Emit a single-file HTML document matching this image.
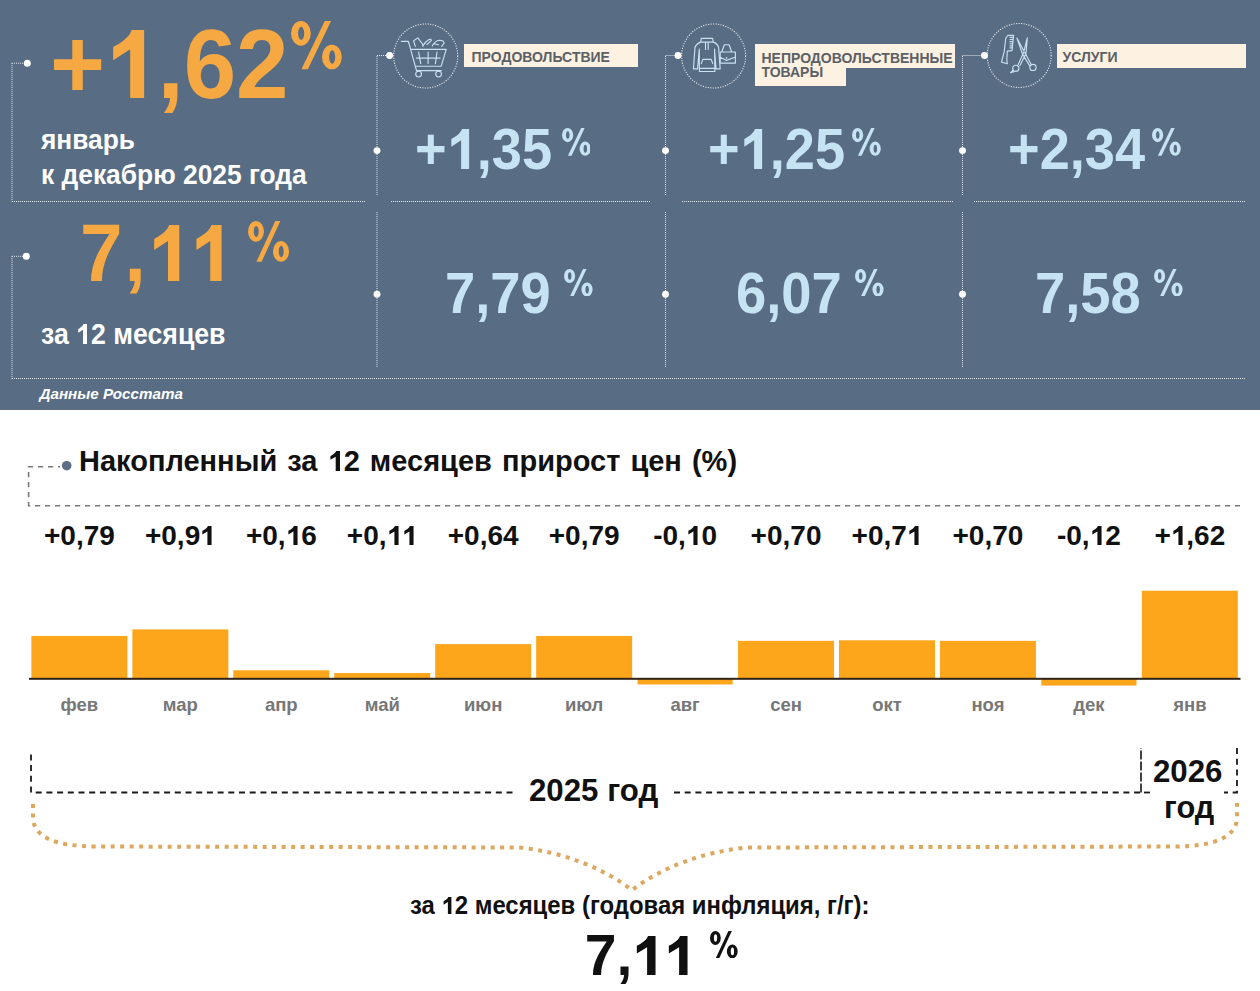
<!DOCTYPE html>
<html><head><meta charset="utf-8"><style>
html,body{margin:0;padding:0;}
body{width:1260px;height:991px;position:relative;overflow:hidden;background:#fff;font-family:"Liberation Sans",sans-serif;}
.abs{position:absolute;left:0;top:0;}
.t{position:absolute;white-space:nowrap;line-height:1;font-weight:bold;}
.c{text-align:center;}
.one{display:inline-block;width:0.55615em;height:0.688em;vertical-align:baseline;}
.one svg{display:block;width:100%;height:100%;fill:currentColor;}
#panel{position:absolute;left:0;top:0;width:1260px;height:410px;background:#586c83;}
</style></head><body>
<div id="panel"></div>
<svg class="abs" width="1260" height="410" viewBox="0 0 1260 410"><line x1="12" y1="63" x2="12" y2="201.5" stroke="#dfe6ee" stroke-width="1" stroke-dasharray="1 1" fill="none"/><line x1="12" y1="63.2" x2="27" y2="63.2" stroke="#dfe6ee" stroke-width="1" stroke-dasharray="1 1" fill="none"/><circle cx="27.3" cy="63.2" r="3.5" fill="#ffffff"/><line x1="12" y1="201.5" x2="366" y2="201.5" stroke="#dfe6ee" stroke-width="1" stroke-dasharray="1 1" fill="none"/><line x1="12" y1="256.3" x2="27" y2="256.3" stroke="#dfe6ee" stroke-width="1" stroke-dasharray="1 1" fill="none"/><circle cx="26.3" cy="256.3" r="3.5" fill="#ffffff"/><line x1="12" y1="256" x2="12" y2="379" stroke="#dfe6ee" stroke-width="1" stroke-dasharray="1 1" fill="none"/><line x1="12" y1="378.5" x2="1246" y2="378.5" stroke="#dfe6ee" stroke-width="1" stroke-dasharray="1 1" fill="none"/><line x1="377" y1="55.5" x2="389.6" y2="55.5" stroke="#dfe6ee" stroke-width="1" stroke-dasharray="1 1" fill="none"/><circle cx="389.6" cy="55.5" r="3.45" fill="#ffffff"/><line x1="377" y1="56" x2="377" y2="195" stroke="#dfe6ee" stroke-width="1" stroke-dasharray="1 1" fill="none"/><circle cx="377" cy="150.6" r="3.45" fill="#ffffff"/><line x1="391" y1="201.5" x2="650" y2="201.5" stroke="#dfe6ee" stroke-width="1" stroke-dasharray="1 1" fill="none"/><line x1="377" y1="212" x2="377" y2="367" stroke="#dfe6ee" stroke-width="1" stroke-dasharray="1 1" fill="none"/><circle cx="377" cy="294.3" r="3.45" fill="#ffffff"/><line x1="665.5" y1="55.5" x2="678" y2="55.5" stroke="#dfe6ee" stroke-width="1" stroke-dasharray="1 1" fill="none"/><circle cx="678" cy="55.5" r="3.45" fill="#ffffff"/><line x1="665.5" y1="56" x2="665.5" y2="195" stroke="#dfe6ee" stroke-width="1" stroke-dasharray="1 1" fill="none"/><circle cx="665.5" cy="150.6" r="3.45" fill="#ffffff"/><line x1="682" y1="201.5" x2="953" y2="201.5" stroke="#dfe6ee" stroke-width="1" stroke-dasharray="1 1" fill="none"/><line x1="665.5" y1="212" x2="665.5" y2="367" stroke="#dfe6ee" stroke-width="1" stroke-dasharray="1 1" fill="none"/><circle cx="665.5" cy="294.3" r="3.45" fill="#ffffff"/><line x1="962.5" y1="55.5" x2="984.5" y2="55.5" stroke="#dfe6ee" stroke-width="1" stroke-dasharray="1 1" fill="none"/><circle cx="984.5" cy="55.5" r="3.45" fill="#ffffff"/><line x1="962.5" y1="56" x2="962.5" y2="195" stroke="#dfe6ee" stroke-width="1" stroke-dasharray="1 1" fill="none"/><circle cx="962.5" cy="150.6" r="3.45" fill="#ffffff"/><line x1="974" y1="201.5" x2="1246" y2="201.5" stroke="#dfe6ee" stroke-width="1" stroke-dasharray="1 1" fill="none"/><line x1="962.5" y1="212" x2="962.5" y2="367" stroke="#dfe6ee" stroke-width="1" stroke-dasharray="1 1" fill="none"/><circle cx="962.5" cy="294.3" r="3.45" fill="#ffffff"/><circle cx="425.7" cy="56" r="32" stroke="#e8eef4" stroke-width="1.1" stroke-dasharray="1.1 1.4" fill="none"/><circle cx="713.6" cy="56" r="32" stroke="#e8eef4" stroke-width="1.1" stroke-dasharray="1.1 1.4" fill="none"/><circle cx="1019.2" cy="55.5" r="32" stroke="#e8eef4" stroke-width="1.1" stroke-dasharray="1.1 1.4" fill="none"/><path stroke="#c8e2f1" stroke-width="1.15" fill="none" stroke-linecap="round" stroke-linejoin="round" d="M401.3 41.3 L408.4 41.3 L416.5 70.6 L441.2 70.6 M410.7 49.3 L446.2 49.3 L441.2 66.2 L416 66.2 M416.3 58.1 L440.1 58.1 M418.6 52 L420.7 63.6 M428.1 52 L428.1 63.6 M437 52 L435.4 63.6"/><circle cx="418.6" cy="74.1" r="2.9" stroke="#c8e2f1" stroke-width="1.15" fill="none" stroke-linecap="round" stroke-linejoin="round"/><circle cx="438.6" cy="74.1" r="2.9" stroke="#c8e2f1" stroke-width="1.15" fill="none" stroke-linecap="round" stroke-linejoin="round"/><path stroke="#c8e2f1" stroke-width="1.15" fill="none" stroke-linecap="round" stroke-linejoin="round" d="M415.3 46.3 L413.6 40.8 L417.8 37.9 L422.5 44 L423 46.3 M422.8 46 Q425.5 41.5 429 39.6 L430.8 39.2 L431.3 40.6 L427 44.5 M432.2 46 Q435 40.5 439.5 40.2 Q444.5 40.5 444 43.5 L441.6 46.3 M434 43.8 L438.5 44.8"/><path stroke="#c8e2f1" stroke-width="1.15" fill="none" stroke-linecap="round" stroke-linejoin="round" d="M701.3 38.4 L712.6 38.4 L713.3 42.1 L700.7 42.1 Z M700.7 42.1 Q696 44 695 47.5 L693.4 68.8 L697.6 68.8 L699.2 50 M713.3 42.1 Q718 44 718.6 47.5 L720.2 68.8 L716 68.8 L714.6 50 M699.3 49 L699.4 71.5 L714.9 71.5 L714.6 49 M699.4 68.3 L714.9 68.3 M705.5 42.6 L705.5 49.4 M708.2 42.6 L708.2 49.4 M701.3 63.6 L702.8 59.4 L711.2 59.4 L712.8 63.6"/><path stroke="#c8e2f1" stroke-width="1.15" fill="none" stroke-linecap="round" stroke-linejoin="round" d="M721.7 52 L724.4 44.7 L729.1 44.7 L731.7 52 M720.2 52 L735.4 52 L735.4 63.1 L720.2 63.1 Z M720.2 57.3 L726.5 60.4 L734.9 57.3"/><circle cx="726.5" cy="57.8" r="0.9" fill="#c8e2f1"/><path stroke="#c8e2f1" stroke-width="1.15" fill="none" stroke-linecap="round" stroke-linejoin="round" d="M1007.8 35.3 L1013.6 35.3 L1012 50.6 L1007.3 51.1 L1006.8 59.5 L1007.3 63.7 L1001.5 62.1 L1004.2 51.6 L1005.7 38.5 Z M1010 37.4 L1013.4 37.4 M1010 39.5 L1013.2 39.5 M1010 41.6 L1013 41.6 M1010 43.7 L1012.8 43.7 M1010 45.8 L1012.6 45.8 M1010 47.9 L1012.4 47.9"/><path stroke="#c8e2f1" stroke-width="1.15" fill="none" stroke-linecap="round" stroke-linejoin="round" d="M1017 38.2 L1025 53 L1031.2 64.6 M1017 38.2 L1022.6 54.2 L1029.6 65.6 M1027.3 37.8 L1023.6 52.6 L1018.2 64.6 M1027.3 37.8 L1026 53.6 L1019.9 65.6"/><circle cx="1033" cy="67.4" r="3.1" stroke="#c8e2f1" stroke-width="1.15" fill="none" stroke-linecap="round" stroke-linejoin="round"/><circle cx="1015.8" cy="68.3" r="3.1" stroke="#c8e2f1" stroke-width="1.15" fill="none" stroke-linecap="round" stroke-linejoin="round"/><path stroke="#c8e2f1" stroke-width="1.15" fill="none" stroke-linecap="round" stroke-linejoin="round" d="M1013.2 70.2 L1010.5 72.6 L1014 71.8"/></svg>
<div class="abs" style="left:464px;top:44px;width:174px;height:23px;background:#fdf1e1"></div><div class="abs" style="left:755px;top:44px;width:200px;height:24px;background:#fdf1e1"></div><div class="abs" style="left:755px;top:67px;width:91px;height:19px;background:#fdf1e1"></div><div class="abs" style="left:1057px;top:44px;width:189px;height:24px;background:#fdf1e1"></div>
<div class="t" style="left:471.50px;top:49.85px;font-size:14px;color:#5b5f66;font-weight:bold;font-style:normal;letter-spacing:0px;word-spacing:0px;">ПРОДОВОЛЬСТВИЕ</div>
<div class="t" style="left:761.50px;top:50.55px;font-size:14px;color:#5b5f66;font-weight:bold;font-style:normal;letter-spacing:0px;word-spacing:0px;">НЕПРОДОВОЛЬСТВЕННЫЕ</div>
<div class="t" style="left:761.50px;top:65.25px;font-size:14px;color:#5b5f66;font-weight:bold;font-style:normal;letter-spacing:0px;word-spacing:0px;">ТОВАРЫ</div>
<div class="t" style="left:1062.50px;top:50.35px;font-size:14px;color:#5b5f66;font-weight:bold;font-style:normal;letter-spacing:0px;word-spacing:0px;">УСЛУГИ</div>
<div class="t" style="left:50.00px;top:14.18px;font-size:99px;color:#F6A843;font-weight:bold;font-style:normal;letter-spacing:0px;word-spacing:0px;transform:scaleX(0.952);transform-origin:0 0;">+<span class="one"><svg viewBox="0 0 1139 1409" preserveAspectRatio="none"><path d="M846 0 L571 0 C565 50 500 190 173 352 L173 627 L543 400 L543 1409 L846 1409 Z"/></svg></span>,62</div>
<svg class="abs" style="left:291.40px;top:21.40px" width="50.80" height="48.30" viewBox="0 0 1000 1000" preserveAspectRatio="none"><path fill="#F6A843" fill-rule="evenodd" d="M0 255 A195 255 0 1 0 390 255 A195 255 0 1 0 0 255 Z M140 255 A60 135 0 1 0 260 255 A60 135 0 1 0 140 255 Z M610 745 A195 255 0 1 0 1000 745 A195 255 0 1 0 610 745 Z M750 746 A60 141 0 1 0 870 746 A60 141 0 1 0 750 746 Z "/><path fill="#F6A843" d="M205 1000 L332 1000 L788 0 L665 0 Z"/></svg>
<div class="t" style="left:40.50px;top:125.89px;font-size:28px;color:#fff;font-weight:bold;font-style:normal;letter-spacing:0px;word-spacing:0px;transform:scaleX(0.94);transform-origin:0 0;">январь</div>
<div class="t" style="left:40.50px;top:159.77px;font-size:28.5px;color:#fff;font-weight:bold;font-style:normal;letter-spacing:0px;word-spacing:0px;transform:scaleX(0.925);transform-origin:0 0;">к декабрю 2025 года</div>
<div class="t" style="left:80.00px;top:211.98px;font-size:81.4px;color:#F6A843;font-weight:bold;font-style:normal;letter-spacing:2px;word-spacing:0px;transform:scaleX(0.94);transform-origin:0 0;">7,<span class="one"><svg viewBox="0 0 1139 1409" preserveAspectRatio="none"><path d="M846 0 L571 0 C565 50 500 190 173 352 L173 627 L543 400 L543 1409 L846 1409 Z"/></svg></span><span class="one"><svg viewBox="0 0 1139 1409" preserveAspectRatio="none"><path d="M846 0 L571 0 C565 50 500 190 173 352 L173 627 L543 400 L543 1409 L846 1409 Z"/></svg></span></div>
<svg class="abs" style="left:248.00px;top:221.00px" width="41.00" height="40.80" viewBox="0 0 1000 1000" preserveAspectRatio="none"><path fill="#F6A843" fill-rule="evenodd" d="M0 255 A195 255 0 1 0 390 255 A195 255 0 1 0 0 255 Z M140 255 A60 135 0 1 0 260 255 A60 135 0 1 0 140 255 Z M610 745 A195 255 0 1 0 1000 745 A195 255 0 1 0 610 745 Z M750 746 A60 141 0 1 0 870 746 A60 141 0 1 0 750 746 Z "/><path fill="#F6A843" d="M205 1000 L332 1000 L788 0 L665 0 Z"/></svg>
<div class="t" style="left:40.50px;top:320.25px;font-size:29px;color:#fff;font-weight:bold;font-style:normal;letter-spacing:0px;word-spacing:0px;transform:scaleX(0.92);transform-origin:0 0;">за <span class="one"><svg viewBox="0 0 1139 1409" preserveAspectRatio="none"><path d="M846 0 L571 0 C565 50 500 190 173 352 L173 627 L543 400 L543 1409 L846 1409 Z"/></svg></span>2 месяцев</div>
<div class="t" style="left:39.50px;top:385.73px;font-size:15.2px;color:#fff;font-weight:bold;font-style:italic;letter-spacing:0px;word-spacing:0px;">Данные Росстата</div>
<div class="t" style="left:414.60px;top:120.29px;font-size:58px;color:#C6E3F3;font-weight:bold;font-style:normal;letter-spacing:0px;word-spacing:0px;transform:scaleX(0.934);transform-origin:0 0;">+<span class="one"><svg viewBox="0 0 1139 1409" preserveAspectRatio="none"><path d="M846 0 L571 0 C565 50 500 190 173 352 L173 627 L543 400 L543 1409 L846 1409 Z"/></svg></span>,35</div>
<svg class="abs" style="left:561.50px;top:128.30px" width="28.80" height="27.80" viewBox="0 0 1000 1000" preserveAspectRatio="none"><path fill="#C6E3F3" fill-rule="evenodd" d="M0 255 A195 255 0 1 0 390 255 A195 255 0 1 0 0 255 Z M140 255 A60 135 0 1 0 260 255 A60 135 0 1 0 140 255 Z M610 745 A195 255 0 1 0 1000 745 A195 255 0 1 0 610 745 Z M750 746 A60 141 0 1 0 870 746 A60 141 0 1 0 750 746 Z "/><path fill="#C6E3F3" d="M205 1000 L332 1000 L788 0 L665 0 Z"/></svg>
<div class="t" style="left:708.10px;top:120.29px;font-size:58px;color:#C6E3F3;font-weight:bold;font-style:normal;letter-spacing:0px;word-spacing:0px;transform:scaleX(0.934);transform-origin:0 0;">+<span class="one"><svg viewBox="0 0 1139 1409" preserveAspectRatio="none"><path d="M846 0 L571 0 C565 50 500 190 173 352 L173 627 L543 400 L543 1409 L846 1409 Z"/></svg></span>,25</div>
<svg class="abs" style="left:852.40px;top:128.30px" width="28.80" height="27.80" viewBox="0 0 1000 1000" preserveAspectRatio="none"><path fill="#C6E3F3" fill-rule="evenodd" d="M0 255 A195 255 0 1 0 390 255 A195 255 0 1 0 0 255 Z M140 255 A60 135 0 1 0 260 255 A60 135 0 1 0 140 255 Z M610 745 A195 255 0 1 0 1000 745 A195 255 0 1 0 610 745 Z M750 746 A60 141 0 1 0 870 746 A60 141 0 1 0 750 746 Z "/><path fill="#C6E3F3" d="M205 1000 L332 1000 L788 0 L665 0 Z"/></svg>
<div class="t" style="left:1008.10px;top:120.29px;font-size:58px;color:#C6E3F3;font-weight:bold;font-style:normal;letter-spacing:0px;word-spacing:0px;transform:scaleX(0.934);transform-origin:0 0;">+2,34</div>
<svg class="abs" style="left:1152.00px;top:128.30px" width="28.80" height="27.80" viewBox="0 0 1000 1000" preserveAspectRatio="none"><path fill="#C6E3F3" fill-rule="evenodd" d="M0 255 A195 255 0 1 0 390 255 A195 255 0 1 0 0 255 Z M140 255 A60 135 0 1 0 260 255 A60 135 0 1 0 140 255 Z M610 745 A195 255 0 1 0 1000 745 A195 255 0 1 0 610 745 Z M750 746 A60 141 0 1 0 870 746 A60 141 0 1 0 750 746 Z "/><path fill="#C6E3F3" d="M205 1000 L332 1000 L788 0 L665 0 Z"/></svg>
<div class="t" style="left:444.90px;top:264.74px;font-size:57px;color:#C6E3F3;font-weight:bold;font-style:normal;letter-spacing:0px;word-spacing:0px;transform:scaleX(0.953);transform-origin:0 0;">7,79</div>
<svg class="abs" style="left:564.30px;top:268.60px" width="28.60" height="27.60" viewBox="0 0 1000 1000" preserveAspectRatio="none"><path fill="#C6E3F3" fill-rule="evenodd" d="M0 255 A195 255 0 1 0 390 255 A195 255 0 1 0 0 255 Z M140 255 A60 135 0 1 0 260 255 A60 135 0 1 0 140 255 Z M610 745 A195 255 0 1 0 1000 745 A195 255 0 1 0 610 745 Z M750 746 A60 141 0 1 0 870 746 A60 141 0 1 0 750 746 Z "/><path fill="#C6E3F3" d="M205 1000 L332 1000 L788 0 L665 0 Z"/></svg>
<div class="t" style="left:735.70px;top:264.74px;font-size:57px;color:#C6E3F3;font-weight:bold;font-style:normal;letter-spacing:0px;word-spacing:0px;transform:scaleX(0.953);transform-origin:0 0;">6,07</div>
<svg class="abs" style="left:855.00px;top:268.60px" width="28.60" height="27.60" viewBox="0 0 1000 1000" preserveAspectRatio="none"><path fill="#C6E3F3" fill-rule="evenodd" d="M0 255 A195 255 0 1 0 390 255 A195 255 0 1 0 0 255 Z M140 255 A60 135 0 1 0 260 255 A60 135 0 1 0 140 255 Z M610 745 A195 255 0 1 0 1000 745 A195 255 0 1 0 610 745 Z M750 746 A60 141 0 1 0 870 746 A60 141 0 1 0 750 746 Z "/><path fill="#C6E3F3" d="M205 1000 L332 1000 L788 0 L665 0 Z"/></svg>
<div class="t" style="left:1034.70px;top:264.74px;font-size:57px;color:#C6E3F3;font-weight:bold;font-style:normal;letter-spacing:0px;word-spacing:0px;transform:scaleX(0.953);transform-origin:0 0;">7,58</div>
<svg class="abs" style="left:1154.30px;top:268.60px" width="28.60" height="27.60" viewBox="0 0 1000 1000" preserveAspectRatio="none"><path fill="#C6E3F3" fill-rule="evenodd" d="M0 255 A195 255 0 1 0 390 255 A195 255 0 1 0 0 255 Z M140 255 A60 135 0 1 0 260 255 A60 135 0 1 0 140 255 Z M610 745 A195 255 0 1 0 1000 745 A195 255 0 1 0 610 745 Z M750 746 A60 141 0 1 0 870 746 A60 141 0 1 0 750 746 Z "/><path fill="#C6E3F3" d="M205 1000 L332 1000 L788 0 L665 0 Z"/></svg>
<svg class="abs" style="top:0;left:0" width="1260" height="991" viewBox="0 0 1260 991"><path d="M60 466.7 L28.6 466.7 L28.6 505.7 L1240 505.7" stroke="#7a7a7a" stroke-width="1.6" stroke-dasharray="5.2 4.8" stroke-dashoffset="3.2" fill="none"/><circle cx="66.7" cy="465.7" r="4.8" fill="#5d6f86"/><rect x="31.40" y="635.95" width="96" height="43.05" fill="#FDA61B"/><rect x="132.35" y="629.40" width="96" height="49.59" fill="#FDA61B"/><rect x="233.30" y="670.28" width="96" height="8.72" fill="#FDA61B"/><rect x="334.25" y="673.00" width="96" height="6.00" fill="#FDA61B"/><rect x="435.20" y="644.12" width="96" height="34.88" fill="#FDA61B"/><rect x="536.15" y="635.95" width="96" height="43.05" fill="#FDA61B"/><rect x="637.50" y="679.00" width="95.2" height="5.45" fill="#FDA61B"/><rect x="738.05" y="640.85" width="96" height="38.15" fill="#FDA61B"/><rect x="839.00" y="640.30" width="96" height="38.70" fill="#FDA61B"/><rect x="939.95" y="640.85" width="96" height="38.15" fill="#FDA61B"/><rect x="1041.30" y="679.00" width="95.2" height="6.54" fill="#FDA61B"/><rect x="1141.85" y="590.71" width="96" height="88.29" fill="#FDA61B"/><rect x="29" y="677.8" width="1211.5" height="2" fill="#2e2418"/><path d="M31 752 L31 792.5 L515 792.5" stroke="#1a1a1a" stroke-width="1.8" stroke-dasharray="6 4.7" fill="none" stroke-dashoffset="-2.4"/><path d="M673 792.5 L1141 792.5" stroke="#1a1a1a" stroke-width="1.8" stroke-dasharray="6 4.7" fill="none" stroke-dashoffset="-1"/><path d="M1141 792.5 L1141 748" stroke="#222" stroke-width="1.7" stroke-dasharray="9 2" fill="none"/><path d="M1237 748 L1237 792.5 L1224 792.5" stroke="#1a1a1a" stroke-width="1.8" stroke-dasharray="6 4.7" fill="none"/><path d="M1144 792.5 L1153 792.5" stroke="#1a1a1a" stroke-width="1.8" stroke-dasharray="6 4.7" fill="none"/><path d="M33 804 L33 818 Q34 846 95 846.5 L520 847.5 Q585 855 632 890 Q679 855 746 847.5 L1175 846.5 Q1236 846 1237 818 L1237 803" stroke="#DDA75E" stroke-width="4" stroke-dasharray="4 5.5" fill="none"/></svg>
<div class="t" style="left:79.00px;top:446.85px;font-size:29px;color:#111;font-weight:bold;font-style:normal;letter-spacing:0px;word-spacing:2px;">Накопленный за <span class="one"><svg viewBox="0 0 1139 1409" preserveAspectRatio="none"><path d="M846 0 L571 0 C565 50 500 190 173 352 L173 627 L543 400 L543 1409 L846 1409 Z"/></svg></span>2 месяцев прирост цен (%)</div>
<div class="t c" style="left:19.40px;top:522.09px;width:120px;font-size:28px;color:#111">+0,79</div>
<div class="t c" style="left:19.40px;top:696.14px;width:120px;font-size:18.5px;color:#777">фев</div>
<div class="t c" style="left:120.35px;top:522.09px;width:120px;font-size:28px;color:#111">+0,9<span class="one"><svg viewBox="0 0 1139 1409" preserveAspectRatio="none"><path d="M846 0 L571 0 C565 50 500 190 173 352 L173 627 L543 400 L543 1409 L846 1409 Z"/></svg></span></div>
<div class="t c" style="left:120.35px;top:696.14px;width:120px;font-size:18.5px;color:#777">мар</div>
<div class="t c" style="left:221.30px;top:522.09px;width:120px;font-size:28px;color:#111">+0,<span class="one"><svg viewBox="0 0 1139 1409" preserveAspectRatio="none"><path d="M846 0 L571 0 C565 50 500 190 173 352 L173 627 L543 400 L543 1409 L846 1409 Z"/></svg></span>6</div>
<div class="t c" style="left:221.30px;top:696.14px;width:120px;font-size:18.5px;color:#777">апр</div>
<div class="t c" style="left:322.25px;top:522.09px;width:120px;font-size:28px;color:#111">+0,<span class="one"><svg viewBox="0 0 1139 1409" preserveAspectRatio="none"><path d="M846 0 L571 0 C565 50 500 190 173 352 L173 627 L543 400 L543 1409 L846 1409 Z"/></svg></span><span class="one"><svg viewBox="0 0 1139 1409" preserveAspectRatio="none"><path d="M846 0 L571 0 C565 50 500 190 173 352 L173 627 L543 400 L543 1409 L846 1409 Z"/></svg></span></div>
<div class="t c" style="left:322.25px;top:696.14px;width:120px;font-size:18.5px;color:#777">май</div>
<div class="t c" style="left:423.20px;top:522.09px;width:120px;font-size:28px;color:#111">+0,64</div>
<div class="t c" style="left:423.20px;top:696.14px;width:120px;font-size:18.5px;color:#777">июн</div>
<div class="t c" style="left:524.15px;top:522.09px;width:120px;font-size:28px;color:#111">+0,79</div>
<div class="t c" style="left:524.15px;top:696.14px;width:120px;font-size:18.5px;color:#777">июл</div>
<div class="t c" style="left:625.10px;top:522.09px;width:120px;font-size:28px;color:#111">-0,<span class="one"><svg viewBox="0 0 1139 1409" preserveAspectRatio="none"><path d="M846 0 L571 0 C565 50 500 190 173 352 L173 627 L543 400 L543 1409 L846 1409 Z"/></svg></span>0</div>
<div class="t c" style="left:625.10px;top:696.14px;width:120px;font-size:18.5px;color:#777">авг</div>
<div class="t c" style="left:726.05px;top:522.09px;width:120px;font-size:28px;color:#111">+0,70</div>
<div class="t c" style="left:726.05px;top:696.14px;width:120px;font-size:18.5px;color:#777">сен</div>
<div class="t c" style="left:827.00px;top:522.09px;width:120px;font-size:28px;color:#111">+0,7<span class="one"><svg viewBox="0 0 1139 1409" preserveAspectRatio="none"><path d="M846 0 L571 0 C565 50 500 190 173 352 L173 627 L543 400 L543 1409 L846 1409 Z"/></svg></span></div>
<div class="t c" style="left:827.00px;top:696.14px;width:120px;font-size:18.5px;color:#777">окт</div>
<div class="t c" style="left:927.95px;top:522.09px;width:120px;font-size:28px;color:#111">+0,70</div>
<div class="t c" style="left:927.95px;top:696.14px;width:120px;font-size:18.5px;color:#777">ноя</div>
<div class="t c" style="left:1028.90px;top:522.09px;width:120px;font-size:28px;color:#111">-0,<span class="one"><svg viewBox="0 0 1139 1409" preserveAspectRatio="none"><path d="M846 0 L571 0 C565 50 500 190 173 352 L173 627 L543 400 L543 1409 L846 1409 Z"/></svg></span>2</div>
<div class="t c" style="left:1028.90px;top:696.14px;width:120px;font-size:18.5px;color:#777">дек</div>
<div class="t c" style="left:1129.85px;top:522.09px;width:120px;font-size:28px;color:#111">+<span class="one"><svg viewBox="0 0 1139 1409" preserveAspectRatio="none"><path d="M846 0 L571 0 C565 50 500 190 173 352 L173 627 L543 400 L543 1409 L846 1409 Z"/></svg></span>,62</div>
<div class="t c" style="left:1129.85px;top:696.14px;width:120px;font-size:18.5px;color:#777">янв</div>
<div class="t" style="left:529.00px;top:773.91px;font-size:32px;color:#111;font-weight:bold;font-style:normal;letter-spacing:0px;word-spacing:0px;transform:scaleX(0.976);transform-origin:0 0;">2025 год</div>
<div class="t" style="left:1153.00px;top:755.41px;font-size:32px;color:#111;font-weight:bold;font-style:normal;letter-spacing:0px;word-spacing:0px;transform:scaleX(0.976);transform-origin:0 0;">2026</div>
<div class="t" style="left:1163.50px;top:791.93px;font-size:31.5px;color:#111;font-weight:bold;font-style:normal;letter-spacing:0px;word-spacing:0px;transform:scaleX(0.976);transform-origin:0 0;">год</div>
<div class="t" style="left:410.00px;top:893.43px;font-size:25px;color:#111;font-weight:bold;font-style:normal;letter-spacing:0px;word-spacing:0px;transform:scaleX(0.956);transform-origin:0 0;">за <span class="one"><svg viewBox="0 0 1139 1409" preserveAspectRatio="none"><path d="M846 0 L571 0 C565 50 500 190 173 352 L173 627 L543 400 L543 1409 L846 1409 Z"/></svg></span>2 месяцев (годовая инфляция, г/г):</div>
<div class="t" style="left:584.80px;top:926.94px;font-size:57px;color:#111;font-weight:bold;font-style:normal;letter-spacing:0px;word-spacing:0px;">7,<span class="one"><svg viewBox="0 0 1139 1409" preserveAspectRatio="none"><path d="M846 0 L571 0 C565 50 500 190 173 352 L173 627 L543 400 L543 1409 L846 1409 Z"/></svg></span><span class="one"><svg viewBox="0 0 1139 1409" preserveAspectRatio="none"><path d="M846 0 L571 0 C565 50 500 190 173 352 L173 627 L543 400 L543 1409 L846 1409 Z"/></svg></span></div>
<svg class="abs" style="left:709.90px;top:931.10px" width="27.70" height="27.40" viewBox="0 0 1000 1000" preserveAspectRatio="none"><path fill="#111" fill-rule="evenodd" d="M0 255 A195 255 0 1 0 390 255 A195 255 0 1 0 0 255 Z M140 255 A60 135 0 1 0 260 255 A60 135 0 1 0 140 255 Z M610 745 A195 255 0 1 0 1000 745 A195 255 0 1 0 610 745 Z M750 746 A60 141 0 1 0 870 746 A60 141 0 1 0 750 746 Z "/><path fill="#111" d="M205 1000 L332 1000 L788 0 L665 0 Z"/></svg>

</body></html>
